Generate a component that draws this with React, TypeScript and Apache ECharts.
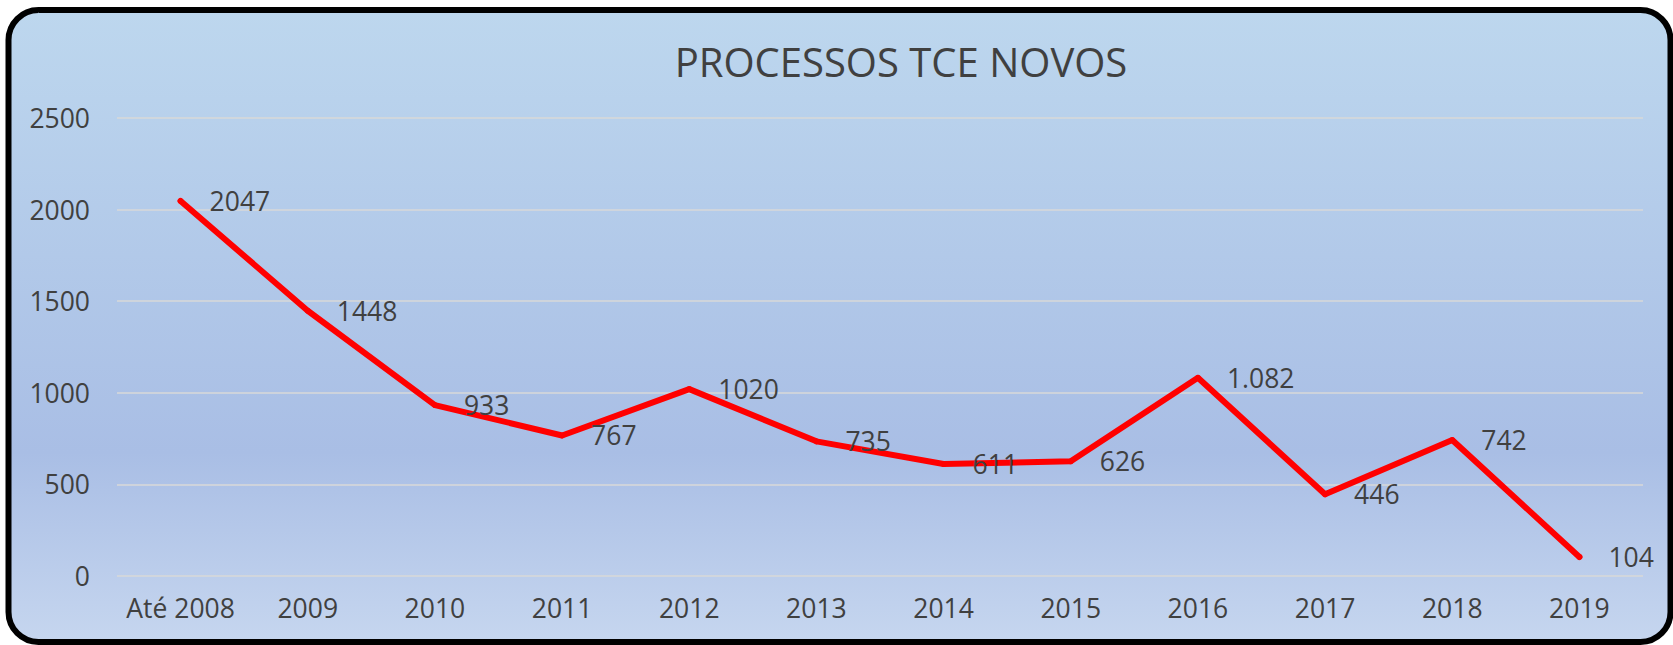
import React, { useEffect, useRef } from "react";
import * as echarts from "echarts";

const categories = ["Até 2008", "2009", "2010", "2011", "2012", "2013", "2014", "2015", "2016", "2017", "2018", "2019"];
const values = [2047, 1448, 933, 767, 1020, 735, 611, 626, 1082, 446, 742, 104];
const valueLabels = ["2047", "1448", "933", "767", "1020", "735", "611", "626", "1.082", "446", "742", "104"];
const yTicks = [0, 500, 1000, 1500, 2000, 2500];
const titleText = "PROCESSOS TCE NOVOS";

const FONT = "'Open Sans', 'Noto Sans', sans-serif";
const TEXT = "#404040";

export default function App() {
  const ref = useRef<HTMLDivElement>(null);
  useEffect(() => {
    if (!ref.current) return;
    const chart = echarts.init(ref.current, null, { renderer: "svg" });
    chart.setOption({
      animation: false,
      backgroundColor: "#ffffff",
      graphic: [
        {
          type: "rect",
          z: -100,
          silent: true,
          shape: { x: 8.5, y: 10, width: 1662, height: 632, r: 30 },
          style: {
            fill: new echarts.graphic.LinearGradient(0, 0, 0, 1, [
              { offset: 0, color: "#BDD7EE" },
              { offset: 0.7, color: "#A9BEE5" },
              { offset: 1, color: "#C6D6EF" },
            ]),
            stroke: "#000000",
            lineWidth: 6,
          },
        },
        {
          type: "text",
          x: 901,
          y: 61,
          silent: true,
          style: {
            text: titleText,
            fontSize: 40,
            fontFamily: FONT,
            fill: TEXT,
            align: "center",
            verticalAlign: "middle",
          },
        },
      ],
      grid: { left: 117, right: 30, top: 118, bottom: 69, containLabel: false },
      xAxis: {
        type: "category",
        data: categories,
        boundaryGap: true,
        axisLine: { show: false },
        axisTick: { show: false },
        axisLabel: { color: TEXT, fontSize: 26.5, fontFamily: FONT, margin: 18, interval: 0 },
      },
      yAxis: {
        type: "value",
        min: yTicks[0],
        max: yTicks[yTicks.length - 1],
        interval: 500,
        axisLine: { show: false },
        axisTick: { show: false },
        axisLabel: {
          color: TEXT,
          fontSize: 26.5,
          fontFamily: FONT,
          margin: 27,
          formatter: (v: number) => String(v),
        },
        splitLine: { lineStyle: { color: "#D9D9D9", width: 1.5 } },
      },
      series: [
        {
          type: "line",
          data: values,
          symbol: "circle",
          symbolSize: 6,
          showSymbol: true,
          itemStyle: { color: "#FF0000" },
          lineStyle: { color: "#FF0000", width: 6, join: "round", cap: "round" },
          label: {
            show: true,
            position: "right",
            distance: 26,
            color: TEXT,
            fontSize: 26.5,
            fontFamily: FONT,
            formatter: (p: any) => valueLabels[p.dataIndex],
          },
        },
      ],
    });
    return () => chart.dispose();
  }, []);
  return (
    <div
      ref={ref}
      style={{ position: "absolute", left: 0, top: 0, width: 1673, height: 645 }}
    />
  );
}
